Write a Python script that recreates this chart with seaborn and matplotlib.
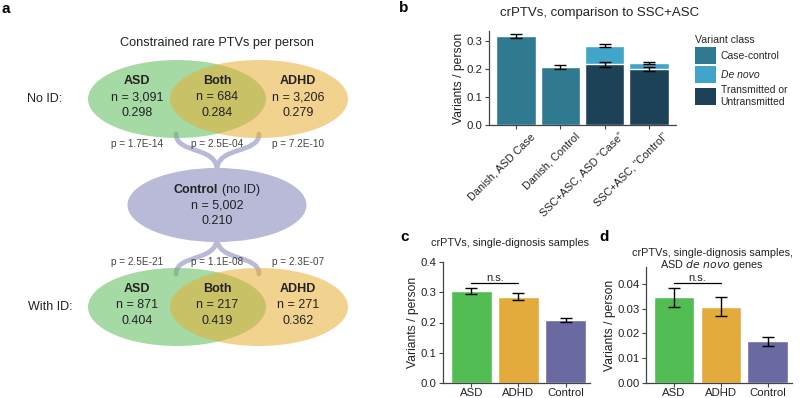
import matplotlib
matplotlib.use("Agg")
import matplotlib.pyplot as plt
import matplotlib.transforms as mtransforms
from matplotlib.patches import Ellipse, Patch, PathPatch
from matplotlib.path import Path
import numpy as np
import pandas as pd
import seaborn as sns

# ---- panel a: Venn-style summary ----
a_groups = ["ASD", "Both", "ADHD"]
a_no_id_n = [3091, 684, 3206]
a_no_id_rate = [0.298, 0.284, 0.279]
a_no_id_p = ["1.7E-14", "2.5E-04", "7.2E-10"]
a_with_id_n = [871, 217, 271]
a_with_id_rate = [0.404, 0.419, 0.362]
a_with_id_p = ["2.5E-21", "1.1E-08", "2.3E-07"]
a_control_n = 5002
a_control_rate = 0.210

# ---- panel b: comparison to SSC+ASC ----
b_categories = ["Danish, ASD Case", "Danish, Control",
                "SSC+ASC, ASD \u201cCase\u201d", "SSC+ASC, \u201cControl\u201d"]
b_base_class = ["Case-control", "Case-control",
                "Transmitted or\nUntransmitted", "Transmitted or\nUntransmitted"]
b_base = [0.319, 0.207, 0.217, 0.200]
b_base_err = [0.008, 0.006, 0.008, 0.007]
b_de_novo = [0.0, 0.0, 0.067, 0.021]
b_total_err = [0.0, 0.0, 0.005, 0.004]

# ---- panels c, d: single-diagnosis samples ----
cd_groups = ["ASD", "ADHD", "Control"]
c_values = [0.304, 0.285, 0.208]
c_err = [0.011, 0.011, 0.006]
d_values = [0.0345, 0.0308, 0.0168]
d_err = [0.0038, 0.0037, 0.0019]

sns.set_style("ticks")
plt.rcParams["font.family"] = ["Liberation Sans", "DejaVu Sans"]

TXT = "#222222"
SPINE = "#444444"
class_colors = {"Case-control": "#2f7a91", "De novo": "#41a4c9",
                "Transmitted or\nUntransmitted": "#1d4257"}
group_colors = {"ASD": "#52bd52", "ADHD": "#e2ab3b", "Control": "#6b69a2"}

fig = plt.figure(figsize=(8.0, 3.98), dpi=100)

# ================= panel a =================
ax_a = fig.add_axes([0, 0, 0.5, 1])
ax_a.set_xlim(0, 400)
ax_a.set_ylim(398, 0)
ax_a.axis("off")

lav = "#b9b9d8"
# connectors (braces)
for x_end in (176, 259):
    verts = [(x_end, 134), (x_end, 154), (217, 146), (217, 170)]
    ax_a.add_patch(PathPatch(Path(verts, [Path.MOVETO, Path.CURVE4, Path.CURVE4, Path.CURVE4]),
                             fill=False, lw=3.4, ec=lav, zorder=1, capstyle="round"))
    verts = [(217, 238), (217, 262), (x_end, 254), (x_end, 274)]
    ax_a.add_patch(PathPatch(Path(verts, [Path.MOVETO, Path.CURVE4, Path.CURVE4, Path.CURVE4]),
                             fill=False, lw=3.4, ec=lav, zorder=1, capstyle="round"))

col_x = [137, 217, 298]
for cy in (99, 307):
    ax_a.add_patch(Ellipse((177, cy), 178, 78, fc=(0.36, 0.74, 0.36), alpha=0.55, ec="none", zorder=2))
    ax_a.add_patch(Ellipse((259, cy), 178, 78, fc=(0.90, 0.68, 0.20), alpha=0.55, ec="none", zorder=3))
ax_a.add_patch(Ellipse((217, 205), 179, 74, fc=lav, ec="none", zorder=4))

big = 9.0
ax_a.text(217, 43, "Constrained rare PTVs per person", ha="center", va="center",
          fontsize=9.2, color=TXT, zorder=5)
ax_a.text(45, 99, "No ID:", ha="center", va="center", fontsize=big, color=TXT)
ax_a.text(50, 307, "With ID:", ha="center", va="center", fontsize=big, color=TXT)
for cy, ns, rates in ((99, a_no_id_n, a_no_id_rate), (307, a_with_id_n, a_with_id_rate)):
    for x, g, n, r in zip(col_x, a_groups, ns, rates):
        ax_a.text(x, cy - 18, g, ha="center", va="center", fontsize=big,
                  fontweight="bold", color=TXT, zorder=5)
        ax_a.text(x, cy - 2, f"n = {n:,}", ha="center", va="center", fontsize=big,
                  color=TXT, zorder=5)
        ax_a.text(x, cy + 13.5, f"{r:.3f}", ha="center", va="center", fontsize=big,
                  color=TXT, zorder=5)
for cy, ps in ((144, a_no_id_p), (262, a_with_id_p)):
    for x, p in zip(col_x, ps):
        ax_a.text(x, cy, f"p = {p}", ha="center", va="center", fontsize=7.2,
                  color="#444444", zorder=5)
ax_a.text(218, 190, "Control", ha="right", va="center", fontsize=big,
          fontweight="bold", color=TXT, zorder=5)
ax_a.text(222, 190, "(no ID)", ha="left", va="center", fontsize=big, color=TXT, zorder=5)
ax_a.text(217, 205.5, f"n = {a_control_n:,}", ha="center", va="center", fontsize=big,
          color=TXT, zorder=5)
ax_a.text(217, 221, f"{a_control_rate:.3f}", ha="center", va="center", fontsize=big,
          color=TXT, zorder=5)


def style_axis(ax, fmt):
    sns.despine(ax=ax)
    for s in ("left", "bottom"):
        ax.spines[s].set_color(SPINE)
        ax.spines[s].set_linewidth(0.9)
    ax.tick_params(axis="both", length=3, width=0.8, color=SPINE, labelsize=8.2,
                   labelcolor=TXT, pad=1.5)
    ax.yaxis.set_major_formatter(matplotlib.ticker.FormatStrFormatter(fmt))
    ax.set_xlabel("")
    ax.set_ylabel("Variants / person", fontsize=8.7, color=TXT, labelpad=1)


# ================= panel b =================
ax_b = fig.add_axes([489 / 800, 1 - 125 / 398, 187 / 800, 94 / 398])
b_df = pd.DataFrame({"category": b_categories, "base": b_base,
                     "total": np.array(b_base) + np.array(b_de_novo),
                     "cls": b_base_class})
sns.barplot(data=b_df, x="category", y="total", color=class_colors["De novo"],
            width=0.9, errorbar=None, ax=ax_b, saturation=1)
sns.barplot(data=b_df, x="category", y="base", hue="cls", palette=class_colors,
            dodge=False, width=0.9, errorbar=None, ax=ax_b, legend=False, saturation=1)
xs = np.arange(len(b_categories))
ax_b.errorbar(xs, b_base, yerr=b_base_err, fmt="none", ecolor="black",
              elinewidth=1, capsize=4.3, capthick=1, zorder=5)
has_dn = np.array(b_de_novo) > 0
ax_b.errorbar(xs[has_dn], b_df["total"][has_dn], yerr=np.array(b_total_err)[has_dn],
              fmt="none", ecolor="black", elinewidth=1, capsize=4.3, capthick=1, zorder=5)
ax_b.set_xlim(-0.62, 3.62)
ax_b.set_ylim(0, 0.336)
ax_b.set_yticks([0, 0.1, 0.2, 0.3])
style_axis(ax_b, "%.1f")
ax_b.set_xticks(xs)
ax_b.set_xticklabels(b_categories, rotation=45, ha="right", va="top",
                     rotation_mode="anchor", fontsize=7.8)
offset = mtransforms.ScaledTranslation(14 / 100, 0, fig.dpi_scale_trans)
for lab in ax_b.get_xticklabels():
    lab.set_transform(lab.get_transform() + offset)
handles = [Patch(fc=class_colors[k], ec="none") for k in class_colors]
labels = ["Case-control", "De novo", "Transmitted or\nUntransmitted"]
leg = ax_b.legend(handles, labels, title="Variant class", loc="upper left",
                  bbox_to_anchor=(1.08, 1.0), frameon=False, fontsize=7.5,
                  title_fontsize=7.6, handlelength=2.0, handleheight=2.1,
                  labelspacing=0.2, handletextpad=0.45, borderaxespad=0)
leg._legend_box.align = "left"
leg.get_texts()[1].set_fontstyle("italic")
fig.text(600 / 800, 1 - 13 / 398, "crPTVs, comparison to SSC+ASC", ha="center",
         va="center", fontsize=9.5, color=TXT)

# ================= panels c, d =================
def diag_panel(rect, values, errs, ylim, ticks, fmt, ns_y):
    ax = fig.add_axes(rect)
    df = pd.DataFrame({"group": cd_groups, "value": values})
    sns.barplot(data=df, x="group", y="value", hue="group", palette=group_colors,
                width=0.87, errorbar=None, legend=False, ax=ax, saturation=1)
    ax.errorbar(np.arange(3), values, yerr=errs, fmt="none", ecolor="black",
                elinewidth=1, capsize=4.5, capthick=1, zorder=5)
    ax.plot([0, 1], [ns_y, ns_y], color="black", lw=0.9)
    ax.text(0.5, ns_y, "n.s.", ha="center", va="bottom", fontsize=8, color=TXT)
    ax.set_xlim(-0.6, 2.52)
    ax.set_ylim(*ylim)
    ax.set_yticks(ticks)
    style_axis(ax, fmt)
    ax.tick_params(axis="x", labelsize=8.2, pad=0.5)
    return ax


diag_panel([443 / 800, 15 / 398, 147 / 800, 121 / 398], c_values, c_err,
           (0, 0.4), [0, 0.1, 0.2, 0.3, 0.4], "%.1f", 0.33)
fig.text(510 / 800, 1 - 243 / 398, "crPTVs, single-dignosis samples", ha="center",
         va="center", fontsize=7.8, color=TXT)

diag_panel([646 / 800, 15 / 398, 146 / 800, 116 / 398], d_values, d_err,
           (0, 0.0468), [0, 0.01, 0.02, 0.03, 0.04], "%.2f", 0.0402)
fig.text(712 / 800, 1 - 253 / 398, "crPTVs, single-dignosis samples,", ha="center",
         va="center", fontsize=7.8, color=TXT)
fig.text(712 / 800, 1 - 264.5 / 398, "ASD $\\it{de\\ novo}$ genes", ha="center",
         va="center", fontsize=7.8, color=TXT)

# panel letters
for x, y, s in ((6, 9, "a"), (404, 8, "b"), (405, 237, "c"), (604, 237, "d")):
    fig.text(x / 800, 1 - y / 398, s, ha="center", va="center", fontsize=11,
             fontweight="bold", color="black")

fig.savefig("out.png", dpi=100)
